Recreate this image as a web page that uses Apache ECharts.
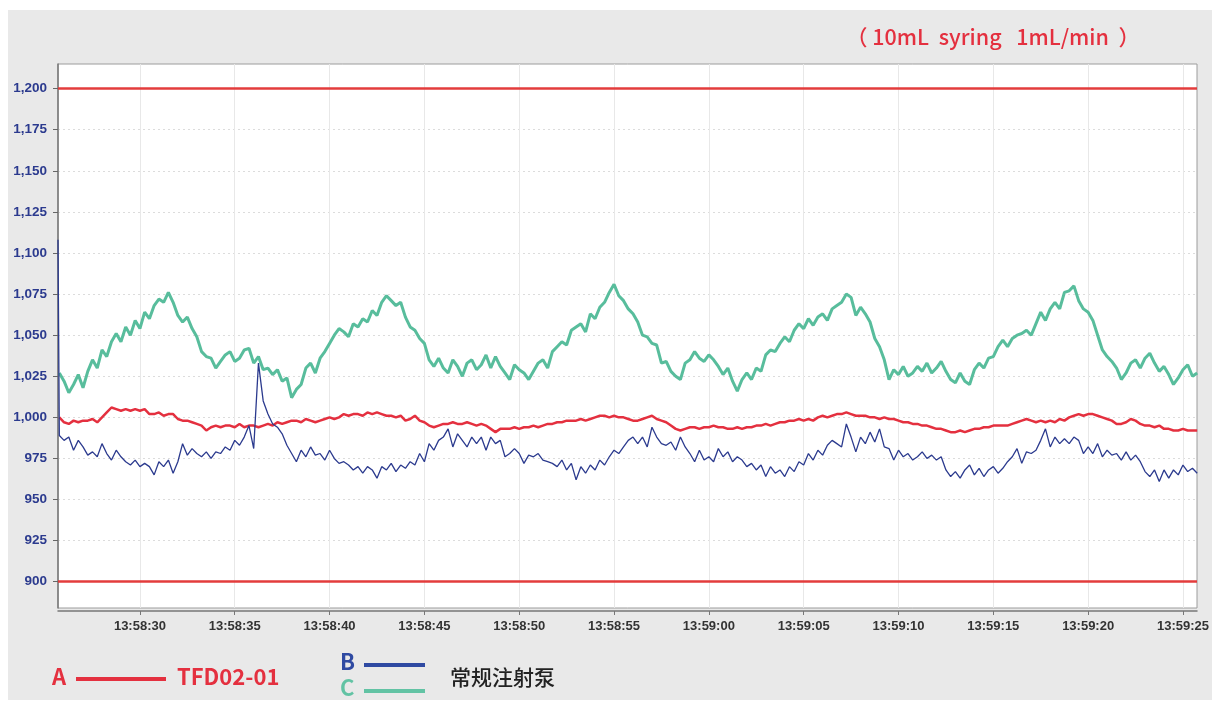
<!DOCTYPE html>
<html>
<head>
<meta charset="utf-8">
<title>TFD02-01 vs 常规注射泵</title>
<script src="https://cdn.jsdelivr.net/npm/echarts@6/dist/echarts.min.js"></script>
<style>
  html, body { margin: 0; padding: 0; background: #fff; }
  #chart { width: 1217px; height: 711px; }
</style>
</head>
<body>
<div id="chart"></div>
<script>
// time in seconds after 13:58:00, one sample every 0.25 s
const X_MIN = 25.68
const X_MAX = 85.74
const T_START = 25.75
const T_STEP = 0.25

const xTicks = [30, 35, 40, 45, 50, 55, 60, 65, 70, 75, 80, 85]
const yTicks = [900, 925, 950, 975, 1000, 1025, 1050, 1075, 1100, 1125, 1150, 1175, 1200]
const limitLines = [900, 1200]

// A - TFD02-01
const valuesA = [
  1000, 997, 996, 998, 997, 998, 998, 999, 997, 1000, 1003, 1006, 1005, 1004, 1005, 1004, 1005, 1004, 1005, 1002,
  1002, 1003, 1001, 1002, 1002, 999, 998, 998, 997, 996, 995, 992, 994, 995, 994, 995, 995, 994, 996, 994,
  995, 995, 994, 995, 996, 995, 997, 996, 997, 998, 998, 997, 999, 998, 997, 998, 999, 1000, 999, 1000,
  1002, 1001, 1002, 1002, 1001, 1003, 1002, 1003, 1002, 1001, 1001, 1000, 1001, 998, 999, 1001, 998, 997, 995, 994,
  995, 996, 996, 997, 996, 996, 997, 996, 995, 996, 995, 993, 991, 993, 993, 993, 994, 993, 994, 994,
  995, 994, 995, 996, 996, 997, 997, 998, 998, 998, 999, 998, 999, 1000, 1001, 1001, 1000, 1001, 1000, 1000,
  999, 998, 998, 999, 1000, 1001, 999, 998, 997, 995, 993, 992, 993, 994, 994, 993, 994, 994, 995, 994,
  994, 993, 993, 994, 993, 994, 994, 995, 995, 996, 995, 996, 997, 997, 998, 998, 999, 998, 999, 998,
  1000, 1001, 1000, 1001, 1002, 1002, 1003, 1002, 1001, 1001, 1001, 1000, 1000, 999, 1000, 999, 999, 998, 997, 997,
  996, 996, 995, 995, 994, 993, 993, 992, 991, 991, 992, 991, 992, 993, 993, 994, 994, 995, 995, 995,
  995, 996, 997, 998, 999, 998, 997, 998, 997, 998, 997, 999, 998, 1000, 1001, 1002, 1001, 1002, 1002, 1001,
  1000, 999, 998, 996, 996, 997, 999, 998, 996, 995, 995, 994, 995, 993, 993, 992, 992, 993, 992, 992,
  992
]

// B - 常规注射泵 (first reading sits on the left edge)
const startB = 1108
const valuesB = [
  989, 986, 988, 980, 986, 982, 977, 979, 976, 984, 978, 974, 980, 976, 973, 971, 974, 970, 972, 970,
  965, 973, 970, 974, 966, 973, 984, 977, 981, 978, 976, 979, 975, 979, 978, 982, 980, 986, 983, 988,
  995, 981, 1033, 1010, 1002, 996, 994, 990, 983, 978, 973, 980, 976, 982, 977, 978, 974, 980, 975, 972,
  973, 971, 968, 970, 966, 970, 968, 963, 970, 968, 972, 967, 971, 969, 973, 971, 978, 973, 984, 980,
  986, 988, 993, 982, 990, 986, 982, 988, 984, 988, 980, 988, 984, 986, 976, 978, 981, 978, 972, 977,
  976, 978, 974, 973, 972, 970, 974, 968, 972, 962, 970, 966, 971, 968, 974, 971, 976, 980, 978, 982,
  986, 988, 984, 988, 982, 994, 988, 984, 983, 985, 980, 988, 982, 978, 973, 980, 974, 976, 973, 981,
  976, 979, 973, 976, 974, 970, 972, 968, 971, 964, 970, 966, 968, 964, 970, 967, 973, 971, 978, 974,
  980, 977, 983, 986, 984, 982, 996, 988, 979, 988, 984, 991, 985, 993, 982, 981, 974, 980, 976, 978,
  974, 976, 979, 975, 977, 974, 976, 968, 964, 967, 963, 968, 971, 965, 969, 964, 968, 970, 966, 969,
  973, 976, 981, 972, 979, 978, 980, 986, 993, 982, 988, 984, 987, 984, 988, 986, 978, 982, 978, 984,
  976, 980, 977, 978, 974, 979, 974, 977, 973, 967, 964, 968, 961, 968, 963, 968, 965, 971, 967, 969,
  966
]

// C - 常规注射泵
const valuesC = [
  1027, 1022, 1015, 1020, 1026, 1018, 1028, 1035, 1030, 1041, 1037, 1046, 1051, 1046, 1055, 1050, 1059, 1054, 1064, 1060,
  1068, 1072, 1070, 1076, 1070, 1062, 1058, 1061, 1054, 1049, 1040, 1037, 1036, 1030, 1034, 1038, 1040, 1034, 1036, 1041,
  1042, 1033, 1037, 1029, 1030, 1026, 1029, 1022, 1024, 1012, 1017, 1020, 1030, 1033, 1027, 1036, 1040, 1045, 1050, 1054,
  1052, 1049, 1057, 1055, 1060, 1058, 1065, 1062, 1070, 1074, 1071, 1068, 1070, 1061, 1055, 1053, 1048, 1045, 1035, 1031,
  1036, 1030, 1027, 1035, 1031, 1025, 1033, 1035, 1029, 1032, 1038, 1030, 1037, 1031, 1027, 1023, 1032, 1029, 1027, 1023,
  1028, 1033, 1035, 1030, 1040, 1043, 1046, 1044, 1053, 1055, 1057, 1052, 1063, 1060, 1067, 1070, 1076, 1081, 1074, 1071,
  1066, 1063, 1058, 1050, 1049, 1045, 1044, 1033, 1034, 1028, 1025, 1023, 1033, 1035, 1040, 1036, 1034, 1038, 1035, 1031,
  1026, 1030, 1022, 1016, 1023, 1027, 1023, 1030, 1028, 1038, 1041, 1040, 1045, 1049, 1046, 1053, 1057, 1054, 1060, 1056,
  1061, 1063, 1059, 1066, 1068, 1070, 1075, 1073, 1062, 1067, 1063, 1058, 1048, 1043, 1035, 1023, 1029, 1026, 1031, 1025,
  1027, 1031, 1028, 1033, 1027, 1030, 1034, 1028, 1023, 1021, 1027, 1022, 1020, 1029, 1033, 1030, 1036, 1037, 1043, 1047,
  1043, 1048, 1050, 1051, 1053, 1050, 1057, 1064, 1059, 1066, 1070, 1066, 1076, 1077, 1080, 1071, 1066, 1064, 1059, 1050,
  1041, 1037, 1034, 1030, 1023, 1027, 1033, 1035, 1030, 1036, 1039, 1033, 1028, 1031, 1026, 1020, 1024, 1029, 1032, 1025,
  1027
]

function pair(values) {
  return values.map((v, i) => [T_START + i * T_STEP, v])
}

function timeLabel(v) {
  const s = 13 * 3600 + 58 * 60 + Math.round(v)
  const pad = n => (n < 10 ? '0' : '') + n
  return Math.floor(s / 3600) + ':' + pad(Math.floor(s / 60) % 60) + ':' + pad(s % 60)
}

const RED = '#e4303f'
const BLUE = '#2b3a8e'
const GREEN = '#58bd9c'

const myChart = echarts.init(document.getElementById('chart'))

const option = {
  animation: false,
  backgroundColor: '#ffffff',
  textStyle: { fontFamily: 'Liberation Sans, Arial, sans-serif' },
  graphic: [
    {
      type: 'rect', z: -10, silent: true,
      shape: { x: 8, y: 10, width: 1204, height: 690 },
      style: { fill: '#e9e9e9' }
    },
    {
      type: 'text', left: 846, top: 26,
      style: { text: '（ 10mL  syring   1mL/min  ）', fill: RED, font: '500 21.5px "Noto Sans CJK SC"' }
    },
    // legend A
    { type: 'text', left: 52, top: 666, style: { text: 'A', fill: RED, font: 'bold 22px "Noto Sans CJK SC"' } },
    { type: 'line', shape: { x1: 76, y1: 679, x2: 166, y2: 679 }, style: { stroke: RED, lineWidth: 4 } },
    { type: 'text', left: 177, top: 666, style: { text: 'TFD02-01', fill: RED, font: 'bold 22px "Noto Sans CJK SC"' } },
    // legend B / C
    { type: 'text', left: 340, top: 651, style: { text: 'B', fill: '#2f4aa2', font: 'bold 22px "Noto Sans CJK SC"' } },
    { type: 'line', shape: { x1: 364, y1: 665, x2: 425, y2: 665 }, style: { stroke: '#2f4aa2', lineWidth: 4 } },
    { type: 'text', left: 340, top: 677, style: { text: 'C', fill: '#62c3a4', font: 'bold 22px "Noto Sans CJK SC"' } },
    { type: 'line', shape: { x1: 364, y1: 691, x2: 425, y2: 691 }, style: { stroke: '#62c3a4', lineWidth: 4 } },
    { type: 'text', left: 450, top: 667, style: { text: '常规注射泵', fill: '#222', font: '500 21px "Noto Sans CJK SC"' } }
  ],
  grid: {
    left: 58,
    top: 64,
    width: 1139,
    height: 544,
    show: true,
    backgroundColor: '#ffffff',
    borderColor: '#9c9c9c',
    borderWidth: 1
  },
  xAxis: {
    type: 'value',
    min: X_MIN,
    max: X_MAX,
    offset: 3,
    axisLine: { show: true, lineStyle: { color: '#777', width: 1.5 } },
    axisTick: { show: true, length: 4, customValues: xTicks, lineStyle: { color: '#777' } },
    axisLabel: {
      customValues: xTicks,
      formatter: timeLabel,
      color: '#333',
      fontSize: 13,
      fontWeight: 'bold',
      margin: 9
    },
    splitLine: { show: true, lineStyle: { color: '#e8e8e8', width: 1 } }
  },
  yAxis: {
    type: 'value',
    min: 884,
    max: 1215,
    axisLine: { show: true, lineStyle: { color: '#777', width: 1.5 } },
    axisTick: { show: true, length: 5, customValues: yTicks, lineStyle: { color: '#666' } },
    axisLabel: {
      customValues: yTicks,
      formatter: v => v.toLocaleString('en-US'),
      color: '#2b3a8e',
      fontSize: 13.5,
      fontWeight: 'bold',
      margin: 11
    },
    splitLine: { show: true, lineStyle: { color: '#dcdcdc', type: [2, 3], width: 1 } }
  },
  series: [
    {
      name: 'C',
      type: 'line',
      data: pair(valuesC),
      showSymbol: false,
      lineStyle: { color: GREEN, width: 3 },
      z: 2
    },
    {
      name: 'A',
      type: 'line',
      data: pair(valuesA),
      showSymbol: false,
      lineStyle: { color: RED, width: 2.5 },
      z: 3,
      markLine: {
        silent: true,
        symbol: 'none',
        label: { show: false },
        lineStyle: { color: '#e33c3c', width: 2.5, type: 'solid' },
        data: limitLines.map(v => ({ yAxis: v }))
      }
    },
    {
      name: 'B',
      type: 'line',
      data: [[X_MIN, startB]].concat(pair(valuesB)),
      showSymbol: false,
      lineStyle: { color: BLUE, width: 1.3 },
      z: 4
    }
  ]
}

myChart.setOption(option)
</script>
</body>
</html>
